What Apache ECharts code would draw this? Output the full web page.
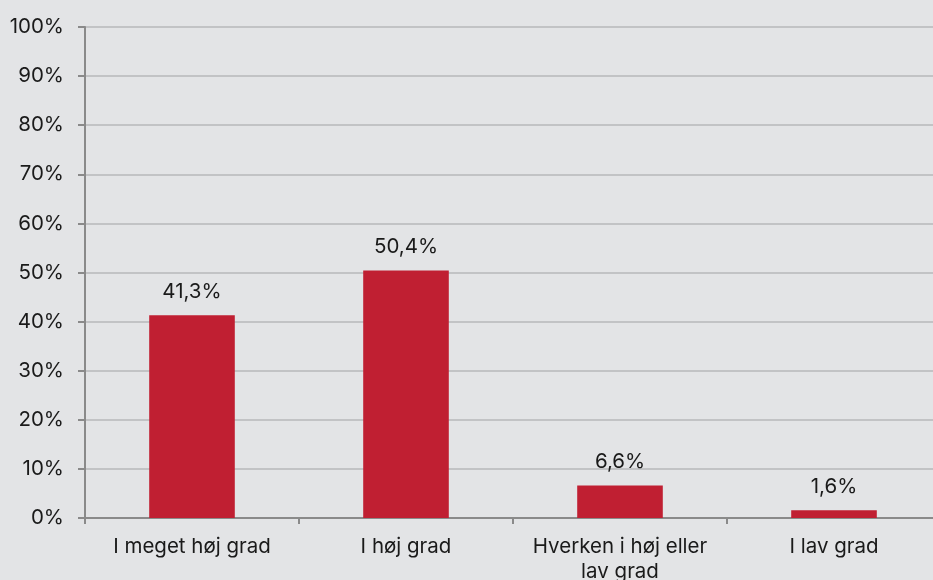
<!DOCTYPE html>
<html>
<head>
<meta charset="utf-8">
<script src="https://cdn.jsdelivr.net/npm/echarts@6/dist/echarts.min.js"></script>
<style>
  html, body { margin: 0; padding: 0; background: #e3e4e6; }
  #chart { width: 933px; height: 580px; }
</style>
</head>
<body>
<div id="chart"></div>
<script>
// data
var categories = ['I meget høj grad', 'I høj grad', 'Hverken i høj eller\nlav grad', 'I lav grad'];
var shares = [41.3, 50.4, 6.6, 1.6];

var chart = echarts.init(document.getElementById('chart'));
chart.setOption({
    backgroundColor: '#e3e4e6',
    animation: false,
    grid: { left: 85, right: -8, top: 27, bottom: 62, outerBoundsMode: 'none' },
    xAxis: {
        type: 'category',
        data: categories,
        axisLine: { lineStyle: { color: '#8a8a8a', width: 2 } },
        axisTick: { show: true, length: 6, lineStyle: { color: '#8a8a8a', width: 2 } },
        axisLabel: {
            interval: 0,
            color: '#1a1a1a',
            fontFamily: 'Inter',
            fontSize: 20.5,
            margin: 16,
            lineHeight: 25
        }
    },
    yAxis: {
        type: 'value',
        min: 0,
        max: 100,
        interval: 10,
        axisLine: { show: true, lineStyle: { color: '#8a8a8a', width: 2 } },
        axisTick: { show: true, length: 7, lineStyle: { color: '#8a8a8a', width: 2 } },
        splitLine: { lineStyle: { color: '#c2c3c5', width: 2 } },
        axisLabel: {
            color: '#1a1a1a',
            fontFamily: 'Inter',
            fontSize: 20.5,
            margin: 21,
            formatter: '{value}%'
        }
    },
    series: [{
        type: 'bar',
        data: shares,
        barWidth: '40%',
        itemStyle: { color: '#c01f32' },
        label: {
            show: true,
            position: 'top',
            distance: 13,
            color: '#1a1a1a',
            fontFamily: 'Inter',
            fontSize: 20.5,
            formatter: function (p) { return p.value.toFixed(1).replace('.', ',') + '%'; }
        }
    }]
});
</script>
</body>
</html>
